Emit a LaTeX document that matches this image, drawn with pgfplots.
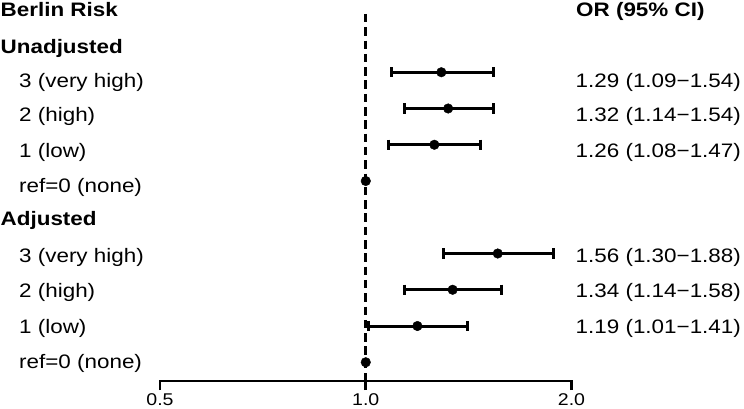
\documentclass[border=0pt]{standalone}
\usepackage{fontspec}
\setmainfont{Liberation Sans}[FakeStretch=1.15]
\usepackage{pgfplots}
\pgfplotsset{compat=1.18}

% rows: 1-4 unadjusted, 6-9 adjusted (0 and 5 are the group headers)
\pgfplotstableread{
row  or    lo    hi
1    1.29  1.09  1.54
2    1.32  1.14  1.54
3    1.26  1.08  1.47
4    1.00  nan   nan
6    1.56  1.30  1.88
7    1.34  1.14  1.58
8    1.19  1.01  1.41
9    1.00  nan   nan
}\orData

\begin{document}
\fontsize{19.5}{23}\selectfont
\begin{tikzpicture}
\useasboundingbox (-160pt,-27pt) rectangle (584pt,381pt);
\begin{axis}[
    at={(0,0)}, anchor=south west,
    scale only axis,
    width=411.5pt, height=381pt,
    xmode=log, log basis x=2,
    xmin=0.5, xmax=2,
    y dir=reverse, ymin=-0.993, ymax=9.517,
    axis x line*=bottom, axis y line=none,
    x axis line style={line width=2.8pt, line cap=rect},
    xtick={0.5,1,2}, xticklabels={0.5,1.0,2.0},
    xtick align=outside,
    major tick length=9pt,
    tick style={line width=2.8pt, black},
    xticklabel style={font=\fontsize{17}{19}\selectfont, yshift=3pt},
    clip=false,
]
% reference line at OR = 1
\addplot[black, line width=3pt, dash pattern=on 8.5pt off 4.8pt]
    coordinates {(1,-0.607) (1,9.517)};
% confidence intervals
\addplot[black, line width=3pt, mark=|, mark size=5.2pt,
    mark options={line width=3pt}, unbounded coords=jump] coordinates {
    (1.09,1) (1.54,1) (nan,nan)
    (1.14,2) (1.54,2) (nan,nan)
    (1.08,3) (1.47,3) (nan,nan)
    (1.30,6) (1.88,6) (nan,nan)
    (1.14,7) (1.58,7) (nan,nan)
    (1.01,8) (1.41,8)
};
% point estimates
\addplot[only marks, mark=*, mark size=4.8pt, black] table[x=or, y=row] {\orData};
\end{axis}

% left column
\begin{scope}[every node/.style={anchor=base west, inner sep=0pt}]
\node at (-159.5pt,364.5pt) {\bfseries Berlin Risk};
\node at (-159.5pt,328pt) {\bfseries Unadjusted};
\node at (-141pt,294pt) {3 (very high)};
\node at (-141pt,259.5pt) {2 (high)};
\node at (-141pt,224pt) {1 (low)};
\node at (-141pt,189pt) {ref=0 (none)};
\node at (-159.5pt,156pt) {\bfseries Adjusted};
\node at (-141pt,119pt) {3 (very high)};
\node at (-141pt,84pt) {2 (high)};
\node at (-141pt,48pt) {1 (low)};
\node at (-141pt,13pt) {ref=0 (none)};
% right column
\node at (416pt,364.5pt) {\bfseries OR (95\% CI)};
\node at (415.5pt,294pt) {1.29 (1.09−1.54)};
\node at (415.5pt,259.5pt) {1.32 (1.14−1.54)};
\node at (415.5pt,224pt) {1.26 (1.08−1.47)};
\node at (415.5pt,119pt) {1.56 (1.30−1.88)};
\node at (415.5pt,84pt) {1.34 (1.14−1.58)};
\node at (415.5pt,48pt) {1.19 (1.01−1.41)};
\end{scope}
\end{tikzpicture}
\end{document}
